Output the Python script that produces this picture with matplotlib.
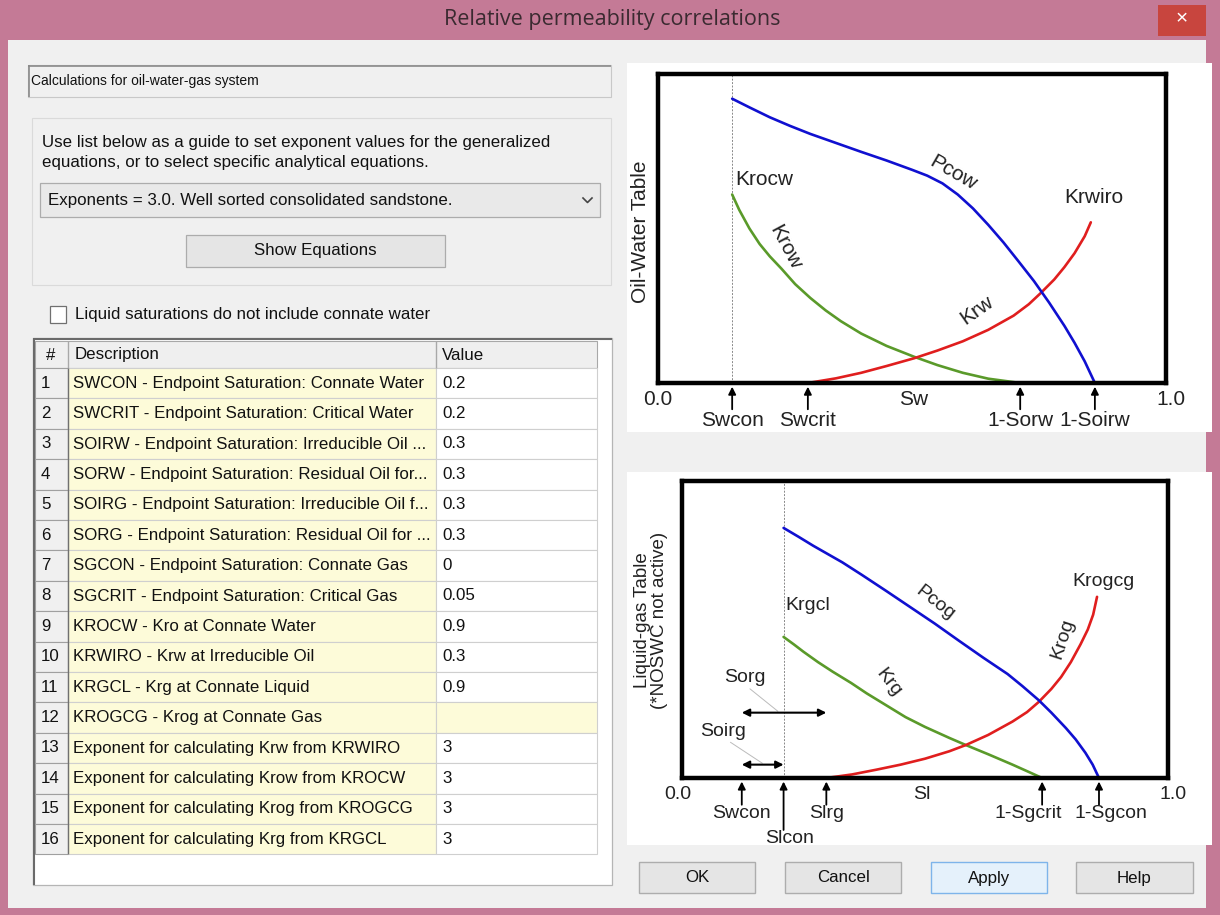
import matplotlib
matplotlib.use('Agg')
import matplotlib.pyplot as plt
from matplotlib.patches import Rectangle

plt.rcParams['font.family'] = ['Liberation Sans', 'DejaVu Sans']

# ---- data (axes are 0..1 schematic) ----
title = 'Relative permeability correlations'

table_rows = [
    ('1', 'SWCON - Endpoint Saturation: Connate Water', '0.2'),
    ('2', 'SWCRIT - Endpoint Saturation: Critical Water', '0.2'),
    ('3', 'SOIRW - Endpoint Saturation: Irreducible Oil ...', '0.3'),
    ('4', 'SORW - Endpoint Saturation: Residual Oil for...', '0.3'),
    ('5', 'SOIRG - Endpoint Saturation: Irreducible Oil f...', '0.3'),
    ('6', 'SORG - Endpoint Saturation: Residual Oil for ...', '0.3'),
    ('7', 'SGCON - Endpoint Saturation: Connate Gas', '0'),
    ('8', 'SGCRIT - Endpoint Saturation: Critical Gas', '0.05'),
    ('9', 'KROCW - Kro at Connate Water', '0.9'),
    ('10', 'KRWIRO - Krw at Irreducible Oil', '0.3'),
    ('11', 'KRGCL - Krg at Connate Liquid', '0.9'),
    ('12', 'KROGCG - Krog at Connate Gas', ''),
    ('13', 'Exponent for calculating Krw from KRWIRO', '3'),
    ('14', 'Exponent for calculating Krow from KROCW', '3'),
    ('15', 'Exponent for calculating Krog from KROGCG', '3'),
    ('16', 'Exponent for calculating Krg from KRGCL', '3'),
]

# oil-water chart
ow_ticks = [0.146, 0.295, 0.713, 0.86]
ow_tick_labels = ['Swcon', 'Swcrit', '1-Sorw', '1-Soirw']
pcow_x = [0.146, 0.18, 0.22, 0.26, 0.30, 0.35, 0.40, 0.45, 0.50, 0.53, 0.56, 0.59, 0.62, 0.65, 0.68, 0.71, 0.74, 0.77, 0.80, 0.82, 0.84, 0.85, 0.86]
pcow_y = [0.92, 0.892, 0.86, 0.832, 0.806, 0.777, 0.748, 0.72, 0.69, 0.671, 0.646, 0.61, 0.565, 0.512, 0.455, 0.393, 0.33, 0.26, 0.185, 0.13, 0.07, 0.035, 0.0]
krow_x = [0.146, 0.16, 0.18, 0.20, 0.22, 0.243, 0.27, 0.30, 0.33, 0.36, 0.40, 0.45, 0.504, 0.55, 0.60, 0.65, 0.713]
krow_y = [0.61, 0.56, 0.50, 0.45, 0.41, 0.37, 0.32, 0.275, 0.235, 0.20, 0.16, 0.12, 0.085, 0.058, 0.033, 0.014, 0.0]
krw_x = [0.295, 0.35, 0.40, 0.45, 0.504, 0.55, 0.60, 0.65, 0.70, 0.73, 0.754, 0.78, 0.80, 0.82, 0.84, 0.852]
krw_y = [0.0, 0.015, 0.033, 0.055, 0.08, 0.105, 0.135, 0.172, 0.218, 0.255, 0.292, 0.335, 0.375, 0.42, 0.475, 0.52]

# liquid-gas chart
lg_ticks = [0.123, 0.297, 0.741, 0.858]
lg_tick_labels = ['Swcon', 'Slrg', '1-Sgcrit', '1-Sgcon']
lg_label_x = [0.123, 0.297, 0.712, 0.883]
slcon = 0.209
pcog_x = [0.209, 0.24, 0.27, 0.30, 0.33, 0.37, 0.42, 0.47, 0.52, 0.57, 0.62, 0.67, 0.70, 0.734, 0.76, 0.79, 0.81, 0.83, 0.845, 0.858]
pcog_y = [0.842, 0.812, 0.782, 0.754, 0.726, 0.684, 0.63, 0.575, 0.52, 0.462, 0.405, 0.35, 0.31, 0.262, 0.22, 0.168, 0.13, 0.085, 0.045, 0.0]
krg_x = [0.209, 0.23, 0.25, 0.28, 0.31, 0.348, 0.38, 0.42, 0.46, 0.50, 0.55, 0.584, 0.63, 0.68, 0.71, 0.741]
krg_y = [0.475, 0.45, 0.425, 0.39, 0.358, 0.32, 0.285, 0.245, 0.205, 0.172, 0.135, 0.111, 0.08, 0.045, 0.023, 0.0]
krog_x = [0.297, 0.35, 0.40, 0.45, 0.50, 0.55, 0.584, 0.63, 0.68, 0.71, 0.734, 0.76, 0.78, 0.80, 0.82, 0.835, 0.846, 0.854]
krog_y = [0.0, 0.012, 0.028, 0.045, 0.065, 0.09, 0.111, 0.145, 0.19, 0.222, 0.256, 0.30, 0.34, 0.39, 0.45, 0.50, 0.55, 0.61]

buttons = ['OK', 'Cancel', 'Apply', 'Help']

# ---- figure / ui canvas in pixel coords ----
W, H = 1220, 915
fig = plt.figure(figsize=(W / 100, H / 100), dpi=100)
ui = fig.add_axes([0, 0, 1, 1])
ui.set_xlim(0, W)
ui.set_ylim(H, 0)
ui.axis('off')

PINK = '#c47a96'
GRAY = '#f0f0f0'
TXT = '#111111'
UFS = 12.2  # ui font size


def box(x0, y0, x1, y1, fc, ec='none', lw=1.0, z=1):
    ui.add_patch(Rectangle((x0, y0), x1 - x0, y1 - y0, facecolor=fc,
                           edgecolor=ec, linewidth=lw, zorder=z))


def hline(x0, x1, y, c, lw=1.0, z=3):
    ui.plot([x0, x1], [y, y], color=c, lw=lw, zorder=z, solid_capstyle='butt')


def vline(x, y0, y1, c, lw=1.0, z=3):
    ui.plot([x, x], [y0, y1], color=c, lw=lw, zorder=z, solid_capstyle='butt')


def utext(x, y, s, ha='left', fs=UFS, z=5):
    ui.text(x, y, s, ha=ha, va='center', fontsize=fs, color=TXT, zorder=z)


# window frame
box(0, 0, W, H, PINK, z=0)
box(8, 40, 1206, 908, GRAY, z=0.5)
ui.text(612, 20, title, ha='center', va='center', fontsize=15.5,
        color='#3a2a30', family=['Open Sans', 'DejaVu Sans'])
box(1158, 5, 1206, 36, '#c8453e', z=1)
ui.text(1182, 19, '\u00d7', ha='center', va='center', fontsize=15,
        color='white')

# text box at top
box(28, 65, 611, 97, '#f0f0f0', ec='#c8c8c8', lw=0.8)
hline(28, 611, 65.5, '#8a8a8a', lw=1.2)
vline(28.5, 65, 97, '#8a8a8a', lw=1.2)
utext(31, 81, 'Calculations for oil-water-gas system', fs=10)

# group box with combo + button
box(32, 118, 611, 285, '#f0f0f0', ec='#dadada', lw=0.8)
utext(42, 143, 'Use list below as a guide to set exponent values for the generalized')
utext(42, 162, 'equations, or to select specific analytical equations.')
box(40, 183, 600, 217, '#e9e9e9', ec='#acacac', lw=0.9)
utext(48, 200, 'Exponents = 3.0. Well sorted consolidated sandstone.')
ui.plot([583, 587.5, 592], [198, 202.5, 198], color='#444444', lw=1.2, zorder=4)
box(186, 235, 445, 267, '#e5e5e5', ec='#acacac', lw=0.9)
utext(315.5, 251, 'Show Equations', ha='center')

# checkbox
box(50, 306, 66, 323, 'white', ec='#707070', lw=0.9)
utext(75, 315, 'Liquid saturations do not include connate water')

# table
tx0, tx1, ty0, ty1 = 33, 612, 338, 885
c0, c1, c2, c3 = 35, 68, 436, 597
hy0, hy1 = 341, 368
row_h = 30.4
box(tx0, ty0, tx1, ty1, 'white', ec='#b5b5b5', lw=0.9)
vline(tx0 + 1, ty0, ty1, '#6a6a6a', lw=1.5)
hline(tx0, tx1, ty0 + 1, '#6a6a6a', lw=1.5)
box(c0, hy0, c3, hy1, '#efefef', ec='#a8a8a8', lw=0.8)
vline(c1, hy0, hy1, '#a8a8a8')
vline(c2, hy0, hy1, '#a8a8a8')
utext(46, 355, '#')
utext(75, 355, 'Description')
utext(442, 355, 'Value')

for i, (num, desc, val) in enumerate(table_rows):
    y0 = hy1 + i * row_h
    y1 = y0 + row_h
    box(c0, y0, c1, y1, '#f0f0f0', ec='#a0a0a0', lw=0.8, z=2)
    box(c1, y0, c2, y1, '#fdfbd9', ec='#cfcfcf', lw=0.8, z=2)
    box(c2, y0, c3, y1, '#fdfbd9' if val == '' else 'white',
        ec='#cfcfcf', lw=0.8, z=2)
    ym = (y0 + y1) / 2
    utext(41, ym, num)
    utext(73, ym, desc)
    utext(442, ym, val)
vline(c1, hy1, hy1 + 16 * row_h, '#707070', lw=1.0, z=4)

# chart panels
box(627, 63, 1212, 432, 'white')
box(627, 472, 1212, 845, 'white')
ui.text(641, 232, 'Oil-Water Table', rotation=90, ha='center', va='center',
        fontsize=15, color='#222222')
ui.text(651, 620, 'Liquid-gas Table\n(*NOSWC not active)', rotation=90,
        ha='center', va='center', fontsize=13.5, color='#222222', linespacing=1.05)

# buttons
bx = [(639, 755), (785, 901), (931, 1047), (1076, 1193)]
for (x0, x1), lab in zip(bx, buttons):
    if lab == 'Apply':
        box(x0, 862, x1, 893, '#e5f1fb', ec='#7eb4ea', lw=1.0)
    else:
        box(x0, 862, x1, 893, '#e5e5e5', ec='#adadad', lw=1.0)
    utext((x0 + x1) / 2, 878, lab, ha='center')


def chart_axes(left, top, right, bottom):
    ax = fig.add_axes([left / W, 1 - bottom / H, (right - left) / W, (bottom - top) / H])
    ax.set_xlim(0, 1)
    ax.set_ylim(0, 1)
    ax.set_xticks([])
    ax.set_yticks([])
    for s in ax.spines.values():
        s.set_linewidth(3.2)
        s.set_color('black')
    ax.set_facecolor('white')
    return ax


def tick_arrow(ax, x, y_tail, label, y_lab, fs, lx=None):
    ax.annotate('', xy=(x, -0.012), xytext=(x, y_tail), xycoords='axes fraction',
                arrowprops=dict(arrowstyle='-|>', color='black', lw=1.3,
                                mutation_scale=11, shrinkA=0, shrinkB=0),
                annotation_clip=False)
    ax.text(x if lx is None else lx, y_lab, label, transform=ax.transAxes,
            ha='center', va='center', fontsize=fs, color='#222222', clip_on=False)


def ctext(ax, x, y, s, fs, rot=0, ha='center', axes_coords=False):
    kw = dict(transform=ax.transAxes) if axes_coords else {}
    ax.text(x, y, s, ha=ha, va='center', fontsize=fs, rotation=rot,
            color='#222222', clip_on=False, **kw)


RED, GREEN, BLUE = '#e01e1e', '#5a9a2a', '#1010d0'

# ---- oil-water chart ----
f1 = 15
ax1 = chart_axes(658, 74, 1166, 383)
ax1.axvline(ow_ticks[0], color='#888888', lw=0.7, ls=(0, (2, 1.5)))
ax1.plot(krow_x, krow_y, color=GREEN, lw=1.9, solid_capstyle='round')
ax1.plot(krw_x, krw_y, color=RED, lw=1.9, solid_capstyle='round')
ax1.plot(pcow_x, pcow_y, color=BLUE, lw=1.9, solid_capstyle='round')
ctext(ax1, 0.153, 0.66, 'Krocw', f1, ha='left')
ctext(ax1, 0.25, 0.44, 'Krow', f1, rot=-62)
ctext(ax1, 0.58, 0.68, 'Pcow', f1, rot=-30)
ctext(ax1, 0.857, 0.60, 'Krwiro', f1)
ctext(ax1, 0.628, 0.235, 'Krw', f1, rot=35)
ctext(ax1, 0.0, -0.055, '0.0', f1, axes_coords=True)
ctext(ax1, 1.01, -0.055, '1.0', f1, axes_coords=True)
ctext(ax1, 0.504, -0.055, 'Sw', f1, axes_coords=True)
for x, lab in zip(ow_ticks, ow_tick_labels):
    tick_arrow(ax1, x, -0.085, lab, -0.12, f1)

# ---- liquid-gas chart ----
f2 = 14
ax2 = chart_axes(682, 481, 1168, 778)
ax2.axvline(slcon, color='#888888', lw=0.7, ls=(0, (2, 1.5)))
ax2.plot(krg_x, krg_y, color=GREEN, lw=1.9, solid_capstyle='round')
ax2.plot(krog_x, krog_y, color=RED, lw=1.9, solid_capstyle='round')
ax2.plot(pcog_x, pcog_y, color=BLUE, lw=1.9, solid_capstyle='round')
ctext(ax2, 0.213, 0.58, 'Krgcl', f2, ha='left')
ctext(ax2, 0.52, 0.59, 'Pcog', f2, rot=-38)
ctext(ax2, 0.425, 0.32, 'Krg', f2, rot=-52)
ctext(ax2, 0.783, 0.47, 'Krog', f2, rot=72)
ctext(ax2, 0.867, 0.66, 'Krogcg', f2)
ctext(ax2, 0.13, 0.34, 'Sorg', f2)
ctext(ax2, 0.085, 0.155, 'Soirg', f2)
ax2.plot([0.14, 0.197], [0.30, 0.225], color='#bbbbbb', lw=0.7)
ax2.plot([0.10, 0.165], [0.12, 0.05], color='#bbbbbb', lw=0.7)
ax2.annotate('', xy=(lg_ticks[1], 0.22), xytext=(lg_ticks[0], 0.22),
             arrowprops=dict(arrowstyle='<|-|>', color='black', lw=1.5,
                             mutation_scale=11, shrinkA=0, shrinkB=0))
ax2.annotate('', xy=(slcon, 0.045), xytext=(lg_ticks[0], 0.045),
             arrowprops=dict(arrowstyle='<|-|>', color='black', lw=1.5,
                             mutation_scale=11, shrinkA=0, shrinkB=0))
ctext(ax2, -0.008, -0.057, '0.0', f2, axes_coords=True)
ctext(ax2, 1.01, -0.057, '1.0', f2, axes_coords=True)
ctext(ax2, 0.494, -0.057, 'Sl', f2, axes_coords=True)
for x, lab, lx in zip(lg_ticks, lg_tick_labels, lg_label_x):
    tick_arrow(ax2, x, -0.09, lab, -0.118, f2, lx=lx)
tick_arrow(ax2, slcon, -0.175, 'Slcon', -0.205, f2, lx=slcon + 0.012)

fig.savefig('out.png', dpi=100)
